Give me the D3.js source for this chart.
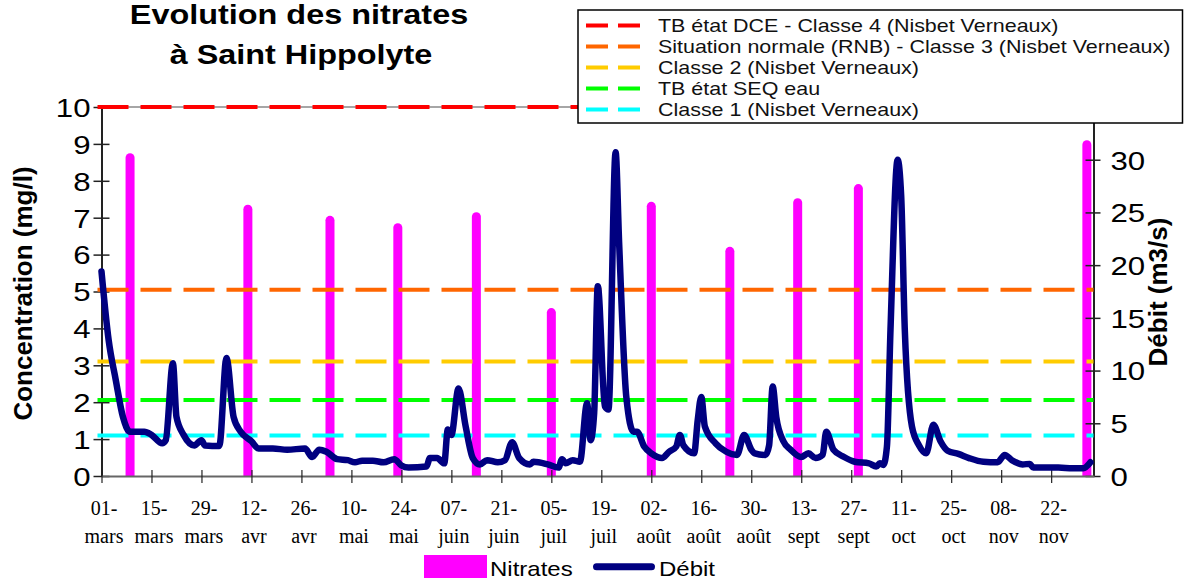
<!DOCTYPE html>
<html>
<head>
<meta charset="utf-8">
<script src="https://cdn.jsdelivr.net/npm/d3@7"></script>
<style>
  body { margin: 0; background: #fff; }
  svg { display: block; }
</style>
</head>
<body>
<svg id="chart" width="1185" height="580"></svg>
<script>
// Data
const nitrateDates = ["2010-03-09", "2010-04-11", "2010-05-04", "2010-05-23", "2010-06-14", "2010-07-05",
  "2010-08-02", "2010-08-24", "2010-09-12", "2010-09-29", "2010-12-02"];
const nitrateValues = [8.75, 7.35, 7.05, 6.85, 7.15, 4.55, 7.43, 6.21, 7.53, 7.91, 9.1];

const debitDates = [
  "2010-03-01", "2010-03-03", "2010-03-05", "2010-03-07", "2010-03-09", "2010-03-13", "2010-03-15", "2010-03-18",
  "2010-03-19", "2010-03-21", "2010-03-22", "2010-03-24", "2010-03-27", "2010-03-29", "2010-03-30",
  "2010-04-03", "2010-04-05", "2010-04-07", "2010-04-09", "2010-04-12", "2010-04-14", "2010-04-18", "2010-04-22",
  "2010-04-27", "2010-04-29",
  "2010-05-01", "2010-05-03", "2010-05-06", "2010-05-09", "2010-05-11", "2010-05-13", "2010-05-16", "2010-05-19",
  "2010-05-22", "2010-05-24", "2010-05-26", "2010-05-31",
  "2010-06-01", "2010-06-03", "2010-06-05", "2010-06-06", "2010-06-07", "2010-06-09", "2010-06-11", "2010-06-13",
  "2010-06-15", "2010-06-17", "2010-06-20", "2010-06-22", "2010-06-24", "2010-06-26", "2010-06-29", "2010-06-30",
  "2010-07-04", "2010-07-07", "2010-07-08", "2010-07-09", "2010-07-11", "2010-07-13", "2010-07-15", "2010-07-16",
  "2010-07-17", "2010-07-18", "2010-07-20", "2010-07-21", "2010-07-23", "2010-07-24", "2010-07-26", "2010-07-28",
  "2010-07-29", "2010-07-31",
  "2010-08-02", "2010-08-05", "2010-08-07", "2010-08-09", "2010-08-10", "2010-08-11", "2010-08-14", "2010-08-15",
  "2010-08-16", "2010-08-17", "2010-08-20", "2010-08-23", "2010-08-26", "2010-08-28", "2010-08-30", "2010-08-31",
  "2010-09-03", "2010-09-04", "2010-09-05", "2010-09-06", "2010-09-08", "2010-09-10", "2010-09-13", "2010-09-15",
  "2010-09-17", "2010-09-19", "2010-09-20", "2010-09-22", "2010-09-25", "2010-09-28",
  "2010-10-02", "2010-10-04", "2010-10-05", "2010-10-06", "2010-10-07", "2010-10-08", "2010-10-10", "2010-10-11",
  "2010-10-12", "2010-10-14", "2010-10-16", "2010-10-18", "2010-10-20", "2010-10-22", "2010-10-24", "2010-10-27",
  "2010-10-30",
  "2010-11-03", "2010-11-07", "2010-11-09", "2010-11-11", "2010-11-14", "2010-11-16", "2010-11-17", "2010-11-24",
  "2010-11-28",
  "2010-12-01", "2010-12-03"];
const debitValues = [
  19.4, 12.9, 9.1, 5.6, 4.2, 4.2, 3.9, 3.1, 3.4, 10.7, 5.6, 3.9, 2.9, 3.4, 2.9,
  2.85, 11.2, 5.6, 4.2, 3.3, 2.6, 2.6, 2.5, 2.6, 1.8,
  2.5, 2.3, 1.6, 1.5, 1.3, 1.45, 1.45, 1.3, 1.6, 1.0, 0.8, 0.9,
  1.7, 1.7, 1.2, 4.4, 3.9, 8.3, 4.7, 1.7, 1.1, 1.5, 1.3, 1.5, 3.2, 1.7, 1.1, 1.35,
  1.1, 0.8, 1.6, 1.2, 1.5, 1.35, 6.9, 3.4, 6.0, 18.0, 6.6, 6.3, 30.7, 22, 7.5, 4.2, 4.2, 2.8,
  2.15, 1.7, 2.3, 2.8, 3.9, 2.9, 2.15, 5.3, 7.5, 4.7, 3.1, 2.3, 2.0, 3.9, 2.5, 2.15,
  2.0, 2.9, 8.5, 5.6, 3.3, 2.5, 1.8, 2.15, 1.7, 2.0, 4.2, 2.5, 1.8, 1.35,
  1.2, 0.9, 1.2, 1.05, 2.8, 13.9, 30.0, 26.5, 13.9, 4.7, 2.9, 2.15, 4.85, 3.3, 2.4, 2.1, 1.7,
  1.35, 1.3, 2.0, 1.5, 1.1, 1.15, 0.8, 0.8, 0.73,
  0.73, 1.3];

const thresholdNames = ["TB état DCE - Classe 4 (Nisbet Verneaux)",
  "Situation normale (RNB) - Classe 3 (Nisbet Verneaux)",
  "Classe 2 (Nisbet Verneaux)", "TB état SEQ eau", "Classe 1 (Nisbet Verneaux)"];
const thresholdValues = [10, 5.05, 3.1, 2.06, 1.1];
const thresholdColors = ["#ff0000", "#ff6600", "#ffcc00", "#00ff00", "#00ffff"];

const xTickDates = ["2010-03-01", "2010-03-15", "2010-03-29", "2010-04-12", "2010-04-26", "2010-05-10", "2010-05-24",
  "2010-06-07", "2010-06-21", "2010-07-05", "2010-07-19", "2010-08-02", "2010-08-16", "2010-08-30", "2010-09-13",
  "2010-09-27", "2010-10-11", "2010-10-25", "2010-11-08", "2010-11-22"];
const xTickDays = ["01-", "15-", "29-", "12-", "26-", "10-", "24-", "07-", "21-", "05-", "19-", "02-", "16-", "30-",
  "13-", "27-", "11-", "25-", "08-", "22-"];
const xTickMonths = ["mars", "mars", "mars", "avr", "avr", "mai", "mai", "juin", "juin", "juil", "juil", "août", "août",
  "août", "sept", "sept", "oct", "oct", "nov", "nov"];
const leftTicks = [0, 1, 2, 3, 4, 5, 6, 7, 8, 9, 10];
const rightTicks = [0, 5, 10, 15, 20, 25, 30];

// Layout
const width = 1185, height = 580;
const plot = { left: 101.5, right: 1093.5, top: 107, bottom: 476 };
const SX = 1.2; // text in the picture is drawn a bit wide
const sans = '"Liberation Sans", Arial, Helvetica, sans-serif';
const serif = '"Liberation Serif", "Times New Roman", serif';
const parse = d3.utcParse("%Y-%m-%d");

const svg = d3.select("#chart");

const x = d3.scaleUtc()
  .domain([parse("2010-03-01"), parse("2010-12-04")])
  .range([plot.left, 1094]);
const yLeft = d3.scaleLinear().domain([0, 10]).range([plot.bottom, plot.top]);
const yRight = d3.scaleLinear().domain([0, 35]).range([plot.bottom, plot.top]);

const nitrates = nitrateDates.map((d, i) => ({ date: parse(d), value: nitrateValues[i] }));
const debit = debitDates.map((d, i) => ({ date: parse(d), value: debitValues[i] }));

// top border of the plot area
svg.append("line")
  .attr("x1", plot.left).attr("x2", plot.right)
  .attr("y1", plot.top).attr("y2", plot.top)
  .attr("stroke", "#888").attr("stroke-width", 1.5);

// Nitrates bars (rounded tops, clipped at the x axis)
svg.append("clipPath").attr("id", "plotClip")
  .append("rect").attr("x", 0).attr("y", 0).attr("width", width).attr("height", plot.bottom);

svg.append("g")
  .attr("clip-path", "url(#plotClip)")
  .selectAll("rect")
  .data(nitrates)
  .enter().append("rect")
  .attr("x", d => x(d.date) - 4.5)
  .attr("y", d => yLeft(d.value))
  .attr("width", 9)
  .attr("height", d => plot.bottom - yLeft(d.value) + 10)
  .attr("rx", 4.5)
  .attr("fill", "#ff00ff");

// Left axis
const gLeft = svg.append("g")
  .attr("transform", "translate(" + plot.left + ",0)")
  .call(d3.axisLeft(yLeft).tickValues(leftTicks).tickSizeOuter(0));
gLeft.select(".domain").attr("stroke", "#222").attr("stroke-width", 2);
gLeft.selectAll(".tick line").attr("x1", 8).attr("x2", -8).attr("stroke", "#222").attr("stroke-width", 1.5);
gLeft.selectAll(".tick text")
  .attr("x", null).attr("dy", null)
  .attr("transform", "translate(-11,9.3) scale(" + SX + ",1)")
  .attr("text-anchor", "end")
  .attr("font-family", sans).attr("font-size", 26).attr("fill", "#000");

// Right axis
const gRight = svg.append("g")
  .attr("transform", "translate(" + plot.right + ",0)")
  .call(d3.axisRight(yRight).tickValues(rightTicks).tickSizeOuter(0));
gRight.select(".domain").attr("stroke", "#222").attr("stroke-width", 2);
gRight.selectAll(".tick line").attr("x1", -8).attr("x2", 7).attr("stroke", "#222").attr("stroke-width", 1.5);
gRight.selectAll(".tick text")
  .attr("x", null).attr("dy", null)
  .attr("transform", "translate(17,9.3) scale(" + SX + ",1)")
  .attr("text-anchor", "start")
  .attr("font-family", sans).attr("font-size", 26).attr("fill", "#000");

// Bottom axis with two-line date labels
const gBottom = svg.append("g")
  .attr("transform", "translate(0," + plot.bottom + ")")
  .call(d3.axisBottom(x).tickValues(xTickDates.map(parse)).tickSizeOuter(0));
gBottom.select(".domain").attr("stroke", "#666").attr("stroke-width", 2);
gBottom.selectAll(".tick line").attr("y1", -6).attr("y2", 7).attr("stroke", "#222").attr("stroke-width", 1.2);
gBottom.selectAll(".tick text").each(function(d, i) {
  const t = d3.select(this);
  t.text(null).attr("dy", null).attr("y", null)
    .attr("font-family", serif).attr("font-size", 20).attr("fill", "#000")
    .attr("text-anchor", "middle");
  t.append("tspan").attr("x", 2).attr("y", 39).text(xTickDays[i]);
  t.append("tspan").attr("x", 2).attr("y", 67).text(xTickMonths[i]);
});

// Threshold lines
svg.append("g")
  .selectAll("line")
  .data(thresholdValues)
  .enter().append("line")
  .attr("x1", 97.5).attr("x2", plot.right)
  .attr("y1", d => yLeft(d)).attr("y2", d => yLeft(d))
  .attr("stroke", (d, i) => thresholdColors[i])
  .attr("stroke-width", 4)
  .attr("stroke-dasharray", "31,12");

// Débit line
const line = d3.line()
  .x(d => x(d.date))
  .y(d => yRight(d.value))
  .curve(d3.curveMonotoneX);

svg.append("path")
  .datum(debit)
  .attr("d", line)
  .attr("fill", "none")
  .attr("stroke", "#000080")
  .attr("stroke-width", 6.5)
  .attr("stroke-linejoin", "round")
  .attr("stroke-linecap", "round");

// Axis titles
svg.append("text")
  .attr("transform", "translate(32,293.5) rotate(-90)")
  .attr("text-anchor", "middle")
  .attr("font-family", sans).attr("font-size", 26).attr("font-weight", "bold")
  .text("Concentration (mg/l)");

svg.append("text")
  .attr("transform", "translate(1167,292) rotate(-90)")
  .attr("text-anchor", "middle")
  .attr("font-family", sans).attr("font-size", 26).attr("font-weight", "bold")
  .text("Débit (m3/s)");

// Title
svg.append("text")
  .attr("transform", "translate(299,24) scale(" + SX + ",1)")
  .attr("text-anchor", "middle")
  .attr("font-family", sans).attr("font-size", 27).attr("font-weight", "bold")
  .text("Evolution des nitrates");
svg.append("text")
  .attr("transform", "translate(301,64) scale(" + SX + ",1)")
  .attr("text-anchor", "middle")
  .attr("font-family", sans).attr("font-size", 27).attr("font-weight", "bold")
  .text("à Saint Hippolyte");

// Threshold legend (top right)
svg.append("rect")
  .attr("x", 578).attr("y", 10).attr("width", 604.5).attr("height", 113)
  .attr("fill", "#fff").attr("stroke", "#000").attr("stroke-width", 1.5);

const legendRows = svg.append("g")
  .selectAll("g")
  .data(thresholdNames)
  .enter().append("g")
  .attr("transform", (d, i) => "translate(0," + (32 + i * 21) + ")");
legendRows.append("line")
  .attr("x1", 586).attr("x2", 641).attr("y1", -6.5).attr("y2", -6.5)
  .attr("stroke", (d, i) => thresholdColors[i])
  .attr("stroke-width", 4)
  .attr("stroke-dasharray", "22,10");
legendRows.append("text")
  .attr("transform", "translate(658,0) scale(1.16,1)")
  .attr("font-family", sans).attr("font-size", 18.5).attr("fill", "#111")
  .text(d => d);

// Series legend (bottom)
svg.append("rect")
  .attr("x", 424).attr("y", 555).attr("width", 63).attr("height", 23)
  .attr("fill", "#ff00ff");
svg.append("text")
  .attr("transform", "translate(490,576) scale(" + SX + ",1)")
  .attr("font-family", sans).attr("font-size", 20)
  .text("Nitrates");
svg.append("line")
  .attr("x1", 596.5).attr("x2", 651.5).attr("y1", 566.7).attr("y2", 566.7)
  .attr("stroke", "#000080").attr("stroke-width", 7).attr("stroke-linecap", "round");
svg.append("text")
  .attr("transform", "translate(659,576) scale(" + SX + ",1)")
  .attr("font-family", sans).attr("font-size", 20)
  .text("Débit");
</script>
</body>
</html>
